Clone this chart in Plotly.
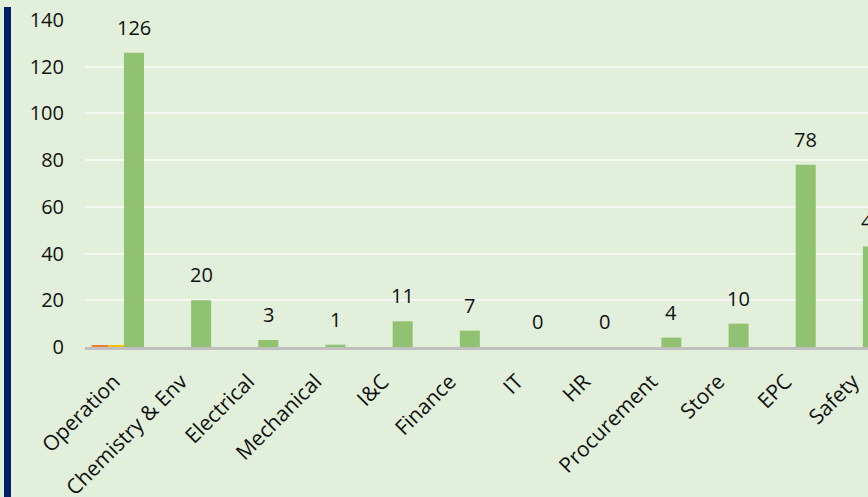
import plotly.graph_objects as go

categories = ["Operation", "Chemistry & Env", "Electrical", "Mechanical", "I&C",
              "Finance", "IT", "HR", "Procurement", "Store", "EPC", "Safety"]
series_orange = [0.6, 0, 0, 0, 0, 0, 0, 0, 0, 0, 0, 0]
series_yellow = [0.6, 0, 0, 0, 0, 0, 0, 0, 0, 0, 0, 0]
series_green = [126, 20, 3, 1, 11, 7, 0, 0, 4, 10, 78, 43]
y_ticks = [0, 20, 40, 60, 80, 100, 120, 140]

BG = "#E2EFDA"
FONT = "Open Sans"
SH = 0.045  # shift of bars relative to category ticks

fig = go.Figure()
fig.add_trace(go.Bar(x=categories, y=series_orange, width=0.25, offset=SH - 0.253 - 0.125,
                     marker=dict(color="#ED7D31", line=dict(width=0)), showlegend=False))
fig.add_trace(go.Bar(x=categories, y=series_yellow, width=0.25, offset=SH - 0.125,
                     marker=dict(color="#FFC000", line=dict(width=0)), showlegend=False))
fig.add_trace(go.Bar(x=categories, y=series_green, width=0.298, offset=SH + 0.253 - 0.149,
                     marker=dict(color="#91C272", line=dict(width=0)),
                     showlegend=False))

for c, v in zip(categories, series_green):
    fig.add_annotation(x=c, y=v, text=str(v), showarrow=False, yanchor="bottom",
                       xshift=20, yshift=10, font=dict(family=FONT, size=20, color="#111111"))

fig.add_shape(type="rect", xref="paper", yref="paper", xsizemode="pixel", ysizemode="pixel",
              xanchor=0, yanchor=0, x0=-81, x1=-74, y0=-160, y1=340,
              fillcolor="#002060", line=dict(width=0), layer="above")

fig.update_layout(
    width=868, height=497,
    margin=dict(l=85, r=0, t=20, b=150, pad=0, autoexpand=False),
    paper_bgcolor=BG, plot_bgcolor=BG,
    barmode="overlay",
    font=dict(family=FONT, size=20, color="#111111"),
    xaxis=dict(range=[-0.476 + SH, 11.18 + SH], tickangle=-45, showgrid=False,
               automargin=False,
               showline=True, linecolor="#BFBFBF", linewidth=3,
               ticklabelstandoff=11,
               tickfont=dict(family=FONT, size=21, color="#111111"), ticks=""),
    yaxis=dict(range=[0, 140], tickvals=y_ticks, showgrid=True, gridcolor="#F4F8F1",
               automargin=False,
               gridwidth=1.5, zeroline=False, showline=False, ticks="",
               ticklabelstandoff=20,
               tickfont=dict(family=FONT, size=20, color="#111111")),
)

fig.write_html("out.html")
